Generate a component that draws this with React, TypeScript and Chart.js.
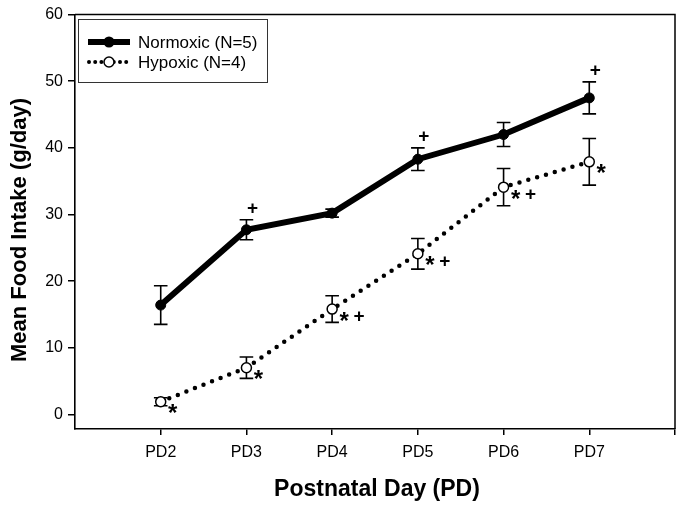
import React, { useEffect, useRef } from 'react';
import { Chart, registerables } from 'chart.js';

Chart.register(...registerables);

const categories = ['PD2', 'PD3', 'PD4', 'PD5', 'PD6', 'PD7'];
const dayNumbers = [2, 3, 4, 5, 6, 7];
const normoxicMean = [16.4, 27.7, 30.2, 38.3, 42.0, 47.5];
const normoxicErr = [2.9, 1.5, 0.6, 1.7, 1.8, 2.4];
const hypoxicMean = [1.9, 7.0, 15.8, 24.1, 34.1, 37.9];
const hypoxicErr = [0.6, 1.6, 2.0, 2.3, 2.8, 3.5];
const normoxicMarks = ['', '+', '', '+', '', '+'];
const hypoxicMarks = ['*', '*', '* +', '* +', '* +', '*'];
const yTicks = [0, 10, 20, 30, 40, 50, 60];
const seriesNames = ['Normoxic (N=5)', 'Hypoxic (N=4)'];
const xTitle = 'Postnatal Day (PD)';
const yTitle = 'Mean Food Intake (g/day)';

const FONT = "'Liberation Sans', Arial, Helvetica, sans-serif";

const errorBarPlugin = {
  id: 'errorBars',
  beforeDatasetsDraw(chart: any) {
    const { ctx, scales } = chart;
    const xs = scales.x;
    const ys = scales.y;
    const sets = [
      [normoxicMean, normoxicErr],
      [hypoxicMean, hypoxicErr],
    ];
    ctx.save();
    ctx.strokeStyle = '#000';
    ctx.lineWidth = 1.6;
    sets.forEach(([m, e]) => {
      m.forEach((v: number, i: number) => {
        const x = xs.getPixelForValue(dayNumbers[i]);
        const yt = ys.getPixelForValue(v + e[i]);
        const yb = ys.getPixelForValue(v - e[i]);
        const cw = 6.8;
        ctx.beginPath();
        ctx.moveTo(x, yt);
        ctx.lineTo(x, yb);
        ctx.moveTo(x - cw, yt);
        ctx.lineTo(x + cw, yt);
        ctx.moveTo(x - cw, yb);
        ctx.lineTo(x + cw, yb);
        ctx.stroke();
      });
    });
    ctx.restore();
  },
};

const decorPlugin = {
  id: 'decor',
  afterDraw(chart: any) {
    const { ctx, chartArea, scales } = chart;
    const xs = scales.x;
    const ys = scales.y;
    ctx.save();
    // frame top/right
    ctx.strokeStyle = '#000';
    ctx.lineWidth = 1.5;
    ctx.beginPath();
    ctx.moveTo(chartArea.left, chartArea.top);
    ctx.lineTo(chartArea.right, chartArea.top);
    ctx.lineTo(chartArea.right, chartArea.bottom);
    ctx.stroke();

    // significance marks
    ctx.fillStyle = '#000';
    ctx.textAlign = 'center';
    ctx.textBaseline = 'middle';
    const plusFont = `bold 19px ${FONT}`;
    const starFont = `bold 24px ${FONT}`;
    normoxicMarks.forEach((m, i) => {
      if (!m) return;
      const x = xs.getPixelForValue(dayNumbers[i]);
      const yt = ys.getPixelForValue(normoxicMean[i] + normoxicErr[i]);
      ctx.font = plusFont;
      ctx.fillText('+', x + 6, yt - 11);
    });
    hypoxicMarks.forEach((m, i) => {
      const x = xs.getPixelForValue(dayNumbers[i]);
      const y = ys.getPixelForValue(hypoxicMean[i]);
      const parts = m.split(' ');
      parts.forEach((p, k) => {
        const px = x + 12 + k * 15;
        if (p === '*') {
          ctx.font = starFont;
          ctx.fillText('*', px, y + 13);
        } else {
          ctx.font = plusFont;
          ctx.fillText('+', px, y + 8);
        }
      });
    });

    // legend
    const bx = 78, by = 19, bw = 189, bh = 63;
    ctx.lineWidth = 1;
    ctx.strokeStyle = '#333';
    ctx.strokeRect(bx + 0.5, by + 0.5, bw, bh);
    const y1 = 42, y2 = 62;
    ctx.strokeStyle = '#000';
    ctx.lineWidth = 6;
    ctx.beginPath();
    ctx.moveTo(88, y1);
    ctx.lineTo(130, y1);
    ctx.stroke();
    ctx.beginPath();
    ctx.arc(109, y1, 5.5, 0, Math.PI * 2);
    ctx.fillStyle = '#000';
    ctx.fill();
    ctx.lineWidth = 4;
    ctx.lineCap = 'round';
    ctx.setLineDash([0, 6.2]);
    ctx.beginPath();
    ctx.moveTo(89, y2);
    ctx.lineTo(128, y2);
    ctx.stroke();
    ctx.setLineDash([]);
    ctx.beginPath();
    ctx.arc(109, y2, 5, 0, Math.PI * 2);
    ctx.fillStyle = '#fff';
    ctx.fill();
    ctx.lineWidth = 1.5;
    ctx.stroke();
    ctx.fillStyle = '#000';
    ctx.font = `17px ${FONT}`;
    ctx.textAlign = 'left';
    ctx.textBaseline = 'middle';
    ctx.fillText(seriesNames[0], 138, y1 + 1);
    ctx.fillText(seriesNames[1], 138, y2 + 1);

    // axis titles
    ctx.textAlign = 'center';
    ctx.font = `bold 23px ${FONT}`;
    ctx.fillText(xTitle, 377, 490);
    ctx.font = `bold 22px ${FONT}`;
    ctx.translate(20, 230);
    ctx.rotate(-Math.PI / 2);
    ctx.fillText(yTitle, 0, 0);
    ctx.restore();
  },
};

export default function App() {
  const ref = useRef<HTMLCanvasElement | null>(null);
  useEffect(() => {
    document.body.style.margin = '0';
    if (!ref.current) return;
    const chart = new Chart(ref.current, {
      type: 'line',
      data: {
        datasets: [
          {
            label: seriesNames[0],
            data: dayNumbers.map((d, i) => ({ x: d, y: normoxicMean[i] })),
            borderColor: '#000',
            borderWidth: 6,
            backgroundColor: '#000',
            pointRadius: 5,
            pointBorderWidth: 1,
            pointBorderColor: '#000',
            pointBackgroundColor: '#000',
            tension: 0,
          },
          {
            label: seriesNames[1],
            data: dayNumbers.map((d, i) => ({ x: d, y: hypoxicMean[i] })),
            borderColor: '#000',
            borderWidth: 4.5,
            borderDash: [0, 9.2],
            borderCapStyle: 'round',
            pointRadius: 5,
            pointBorderWidth: 1.5,
            pointBorderColor: '#000',
            pointBackgroundColor: '#fff',
            tension: 0,
          },
        ],
      },
      options: {
        responsive: false,
        animation: false,
        devicePixelRatio: 1,
        layout: { padding: { top: 9, right: 9, left: 0, bottom: 0 } },
        plugins: { legend: { display: false }, tooltip: { enabled: false } },
        scales: {
          x: {
            type: 'linear',
            min: 1,
            max: 8,
            afterBuildTicks: (s: any) => {
              s.ticks = [...dayNumbers, 8].map((v) => ({ value: v }));
            },
            afterFit: (s: any) => {
              s.height = 79;
            },
            ticks: {
              color: '#000',
              font: { family: FONT, size: 16 },
              padding: 8,
              maxRotation: 0,
              autoSkip: false,
              callback: (v: any) => {
                const i = dayNumbers.indexOf(Number(v));
                return i >= 0 ? categories[i] : '';
              },
            },
            grid: { drawOnChartArea: false, drawTicks: true, tickLength: 6, color: '#000', lineWidth: 1.5 },
            border: { display: true, color: '#000', width: 1.6 },
          },
          y: {
            type: 'linear',
            min: -2.2,
            max: 60,
            afterBuildTicks: (s: any) => {
              s.ticks = yTicks.map((v) => ({ value: v }));
            },
            afterFit: (s: any) => {
              s.width = 75;
            },
            ticks: {
              color: '#000',
              font: { family: FONT, size: 16 },
              padding: 5,
            },
            grid: { drawOnChartArea: false, drawTicks: true, tickLength: 7, color: '#000', lineWidth: 1.5 },
            border: { display: true, color: '#000', width: 1.6 },
          },
        },
      },
      plugins: [errorBarPlugin, decorPlugin],
    } as any);
    return () => chart.destroy();
  }, []);
  return (
    <div style={{ width: 684, height: 508 }}>
      <canvas ref={ref} width={684} height={508} style={{ display: 'block' }} />
    </div>
  );
}
